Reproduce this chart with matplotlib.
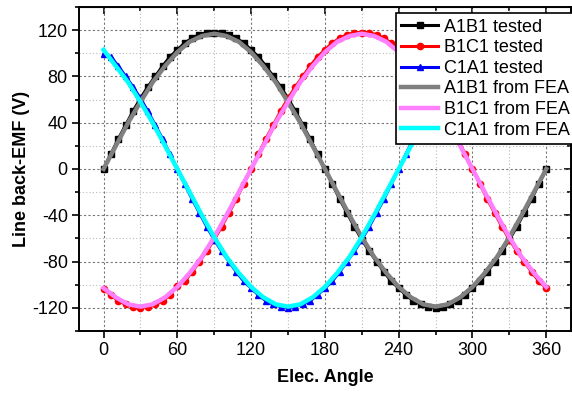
import matplotlib
matplotlib.use("Agg")
import matplotlib.pyplot as plt
from matplotlib.ticker import MultipleLocator

plt.rcParams["font.family"] = ["Liberation Sans", "DejaVu Sans"]
plt.rcParams["axes.unicode_minus"] = False

# measured line back-EMF, one sample every 6 electrical degrees
angle_test = list(range(0, 361, 6))
a1b1_test = [0, 13, 26, 38, 50, 61, 71, 80, 89, 97, 103, 109, 113, 116, 118, 118,
             118, 116, 113, 109, 103, 97, 89, 80, 71, 61, 50, 38, 26, 13, 0,
             -13, -26, -38, -50, -61, -71, -80, -89, -97, -103, -109, -114, -117, -119, -120,
             -119, -117, -114, -109, -103, -97, -89, -80, -71, -61, -50, -38, -26, -13, 0]
b1c1_test = [-104, -109, -114, -117, -119, -120, -119, -117, -114, -109, -101, -97, -89, -80, -71,
             -61, -50, -38, -26, -13, 0, 13, 26, 38, 50, 61, 71, 80, 89, 97,
             103, 109, 113, 116, 118, 118, 118, 116, 113, 109, 103, 97, 89, 80, 71,
             61, 50, 38, 26, 13, 0, -13, -26, -38, -50, -61, -71, -80, -89, -97, -103]
c1a1_test = [99, 97, 89, 80, 71, 61, 50, 38, 26, 13, 0, -13, -26, -38, -50,
             -61, -71, -80, -89, -97, -103, -109, -114, -117, -119, -120, -119, -117, -114, -109,
             -103, -97, -89, -80, -71, -61, -50, -38, -26, -13, 0, 13, 26, 38, 50,
             61, 71, 80, 89, 97, 103, 109, 113, 116, 118, 118, 118, 116, 113, 109, 103]

# finite element prediction, every 10 degrees
angle_fea = list(range(0, 361, 10))
a1b1_fea = [0, 20, 40, 58, 75, 89, 101, 110, 115, 117, 115, 110, 101, 89, 75, 58, 40, 20, 0,
            -20, -40, -59, -76, -90, -102, -111, -117, -119, -117, -111, -102, -90, -76, -59, -40, -20, 0]
b1c1_fea = [-103, -111, -117, -119, -117, -111, -102, -90, -76, -59, -40, -20, 0,
            20, 40, 58, 75, 89, 101, 110, 115, 117, 115, 110, 101, 89, 75, 58, 40, 20, 0,
            -20, -40, -59, -76, -90, -102]
c1a1_fea = [103, 89, 75, 58, 40, 20, 0, -20, -40, -59, -76, -90, -102, -111, -117, -119,
            -117, -111, -102, -90, -76, -59, -40, -20, 0, 20, 40, 58, 75, 89, 101,
            110, 115, 117, 115, 110, 101]

fig = plt.figure(figsize=(5.72, 3.93), dpi=100)
ax = fig.add_axes([0.138, 0.158, 0.860, 0.824])

ax.plot(angle_test, a1b1_test, color="black", lw=2.2, marker="s", ms=4, label="A1B1 tested")
ax.plot(angle_test, b1c1_test, color="red", lw=2.2, marker="o", ms=4.5, label="B1C1 tested")
ax.plot(angle_test, c1a1_test, color="blue", lw=2.2, marker="^", ms=5, label="C1A1 tested")
ax.plot(angle_fea, a1b1_fea, color="#808080", lw=3.2, label="A1B1 from FEA")
ax.plot(angle_fea, b1c1_fea, color="#ff80ff", lw=3.2, label="B1C1 from FEA")
ax.plot(angle_fea, c1a1_fea, color="cyan", lw=3.2, label="C1A1 from FEA")

ax.set_xlim(-20, 380)
ax.set_ylim(-140, 140)
ax.xaxis.set_major_locator(MultipleLocator(60))
ax.xaxis.set_minor_locator(MultipleLocator(30))
ax.yaxis.set_major_locator(MultipleLocator(40))
ax.yaxis.set_minor_locator(MultipleLocator(20))

ax.grid(which="major", color="#777777", ls=(0, (2, 2)), lw=0.8)
ax.grid(which="minor", color="#bbbbbb", ls=(0, (1, 2)), lw=0.8)
ax.set_axisbelow(True)

for s in ax.spines.values():
    s.set_linewidth(1.4)
ax.tick_params(which="both", direction="out", width=1.2, labelsize=13, pad=3)
ax.tick_params(which="major", length=5)
ax.tick_params(which="minor", length=3)

# mirrored ticks on top and right point inward
top = ax.secondary_xaxis("top")
top.xaxis.set_major_locator(MultipleLocator(60))
top.xaxis.set_minor_locator(MultipleLocator(30))
top.tick_params(which="both", direction="in", width=1.2, labeltop=False)
top.tick_params(which="major", length=5)
top.tick_params(which="minor", length=3)
right = ax.secondary_yaxis("right")
right.yaxis.set_major_locator(MultipleLocator(40))
right.yaxis.set_minor_locator(MultipleLocator(20))
right.tick_params(which="both", direction="in", width=1.2, labelright=False)
right.tick_params(which="major", length=5)
right.tick_params(which="minor", length=3)

ax.set_xlabel("Elec. Angle", fontsize=13, fontweight="bold", labelpad=7)
ax.set_ylabel("Line back-EMF (V)", fontsize=13, fontweight="bold", labelpad=1)

leg = ax.legend(loc="upper left", bbox_to_anchor=(0.644, 0.981), fontsize=13,
                frameon=True, fancybox=False, framealpha=1, edgecolor="black",
                handlelength=2.05, handletextpad=0.3, labelspacing=0.2,
                borderpad=0.3, borderaxespad=0)
leg.get_frame().set_linewidth(1.2)
leg.set_zorder(10)

fig.savefig("out.png", dpi=100)
